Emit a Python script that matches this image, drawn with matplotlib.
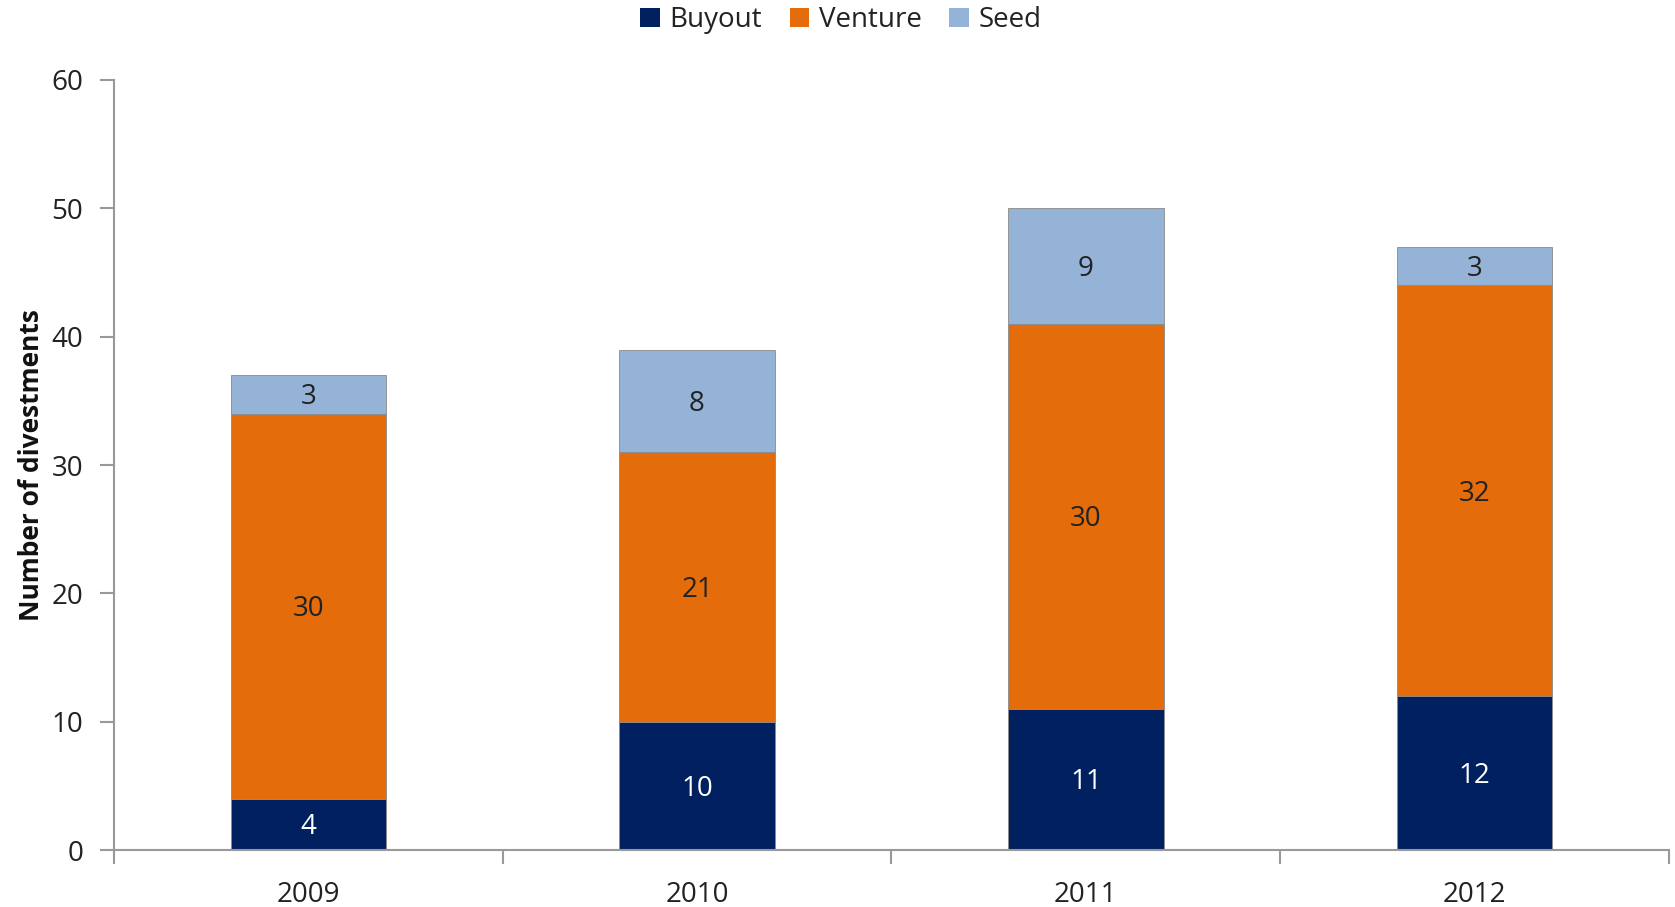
import matplotlib
matplotlib.use("Agg")
import matplotlib.pyplot as plt
import matplotlib.transforms as mtransforms
import numpy as np

years = ["2009", "2010", "2011", "2012"]
buyout = [4, 10, 11, 12]
venture = [30, 21, 30, 32]
seed = [3, 8, 9, 3]
series_names = ["Buyout", "Venture", "Seed"]
colors = ["#002060", "#E46C0A", "#95B3D7"]
label_colors = ["white", "#222222", "#222222"]

plt.rcParams['font.family'] = ['Open Sans', 'DejaVu Sans']

fig = plt.figure(figsize=(16.75, 9.07), dpi=100)
ax = fig.add_axes([0.068, 0.0628, 0.9284, 0.849])
label_tr = mtransforms.offset_copy(ax.transData, fig=fig, x=0, y=-3, units="dots")

x = np.arange(len(years))
bottom = np.zeros(len(years))
handles = []
for name, vals, c, lc in zip(series_names, [buyout, venture, seed], colors, label_colors):
    vals = np.array(vals, dtype=float)
    b = ax.bar(x, vals, 0.4, bottom=bottom, color=c, label=name,
               edgecolor="#8a8a8a", linewidth=0.6, zorder=2)
    handles.append(b)
    for xi, v, bt in zip(x, vals, bottom):
        ax.text(xi, bt + v / 2, f"{int(v)}", ha="center", va="center",
                fontsize=20, color=lc, zorder=3, transform=label_tr)
    bottom += vals

ax.set_xlim(-0.5, 3.5)
ax.set_ylim(0, 60)
ax.set_yticks(range(0, 61, 10))
ax.set_xticks(x)
ax.set_xticklabels(years)
ax.set_xticks(np.arange(-0.5, 3.6, 1), minor=True)
ax.tick_params(axis="x", which="major", length=0, pad=22, labelsize=20, labelcolor="#222222")
ax.tick_params(axis="x", which="minor", length=10, width=1.5, color="#999999", direction="out")
ax.tick_params(axis="y", length=10, width=1.5, color="#999999", direction="out",
               labelsize=20, labelcolor="#222222", pad=12)

for s in ["top", "right"]:
    ax.spines[s].set_visible(False)
for s in ["left", "bottom"]:
    ax.spines[s].set_color("#999999")
    ax.spines[s].set_linewidth(1.5)

ax.set_ylabel("Number of divestments", fontsize=19, fontweight="bold", color="#111111", labelpad=5)

leg = fig.legend(handles=handles, labels=series_names, loc="center",
                 bbox_to_anchor=(0.502, 1 - 20 / 907), ncol=3, frameon=False, fontsize=20,
                 handlelength=0.7, handleheight=0.7, handletextpad=0.35, columnspacing=1.0)
for t in leg.get_texts():
    t.set_color("#222222")
for h in leg.legend_handles:
    h.set_edgecolor("none")

fig.savefig("out.png", dpi=100)
